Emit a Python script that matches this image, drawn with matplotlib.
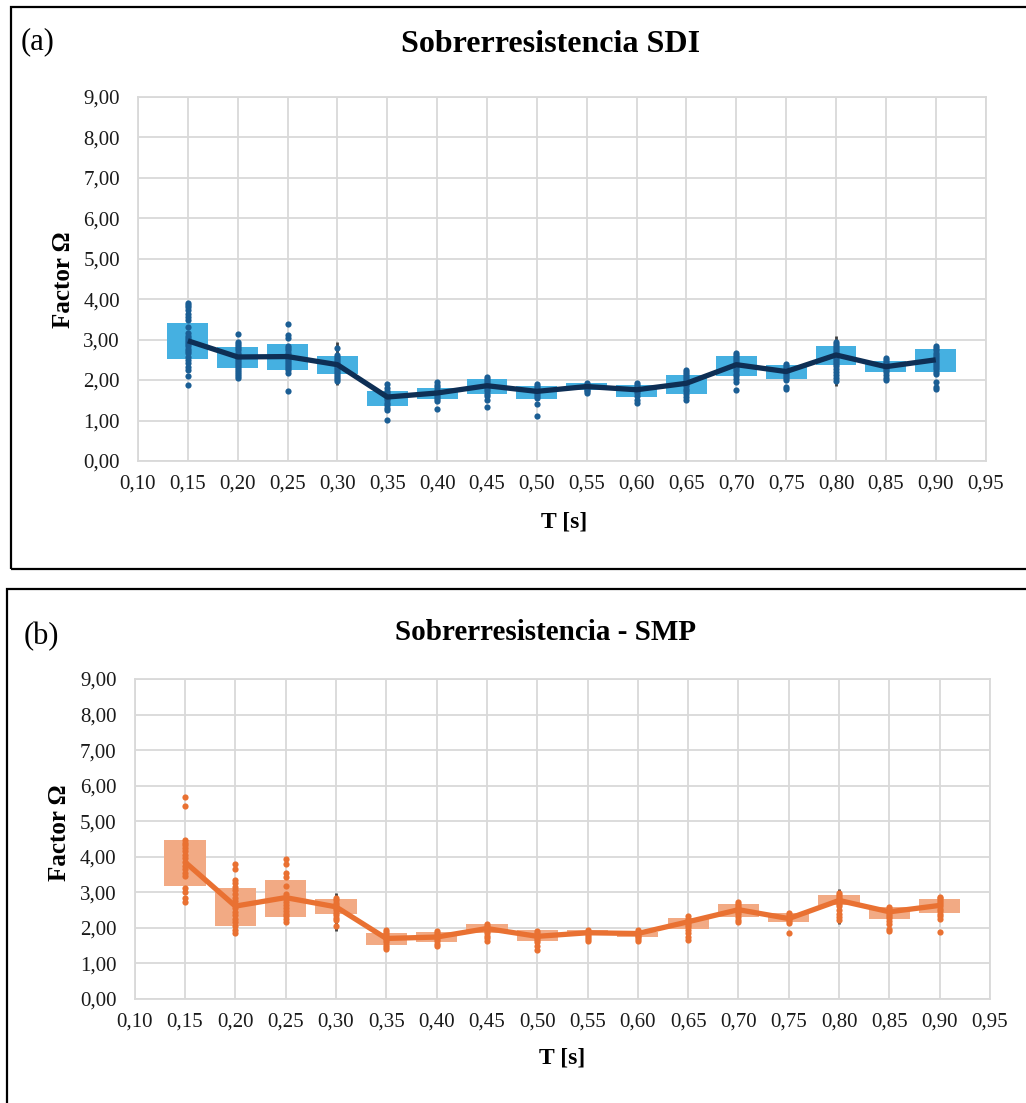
import matplotlib
matplotlib.use("Agg")
import matplotlib.pyplot as plt
from matplotlib.patches import Rectangle
from matplotlib.ticker import FuncFormatter, MultipleLocator

plt.rcParams['font.family'] = ['Liberation Serif', 'DejaVu Serif']

periods = [0.15, 0.20, 0.25, 0.30, 0.35, 0.40, 0.45, 0.50, 0.55, 0.60,
           0.65, 0.70, 0.75, 0.80, 0.85, 0.90]

# ---------- (a) SDI ----------
sdi_mean = [2.97, 2.57, 2.58, 2.38, 1.58, 1.68, 1.86, 1.72, 1.84, 1.76,
            1.92, 2.38, 2.21, 2.62, 2.33, 2.50]
sdi_box_top = [3.41, 2.81, 2.89, 2.60, 1.73, 1.80, 2.02, 1.86, 1.92, 1.88,
               2.13, 2.60, 2.37, 2.85, 2.48, 2.77]
sdi_box_bot = [2.52, 2.29, 2.24, 2.14, 1.37, 1.53, 1.65, 1.53, 1.76, 1.58,
               1.65, 2.10, 2.03, 2.36, 2.21, 2.19]
sdi_points = [
    [3.90, 3.85, 3.80, 3.72, 3.62, 3.55, 3.49, 3.32, 3.17, 3.10, 3.03, 2.98, 2.93,
     2.88, 2.83, 2.77, 2.72, 2.67, 2.58, 2.50, 2.42, 2.33, 2.24, 2.09, 1.88],
    [3.14, 2.93, 2.88, 2.83, 2.78, 2.73, 2.68, 2.63, 2.58, 2.54, 2.50, 2.45, 2.40,
     2.35, 2.30, 2.25, 2.20, 2.14, 2.09, 2.05],
    [3.39, 3.12, 3.04, 2.83, 2.78, 2.73, 2.68, 2.63, 2.58, 2.54, 2.50, 2.45, 2.40,
     2.35, 2.30, 2.25, 2.17, 1.74],
    [2.79, 2.62, 2.57, 2.52, 2.47, 2.42, 2.38, 2.33, 2.28, 2.23, 2.18, 2.13, 2.08,
     2.03, 1.98],
    [1.90, 1.80, 1.74, 1.68, 1.62, 1.56, 1.50, 1.44, 1.38, 1.32, 1.26, 1.01],
    [1.94, 1.88, 1.82, 1.76, 1.70, 1.64, 1.58, 1.52, 1.47, 1.29],
    [2.07, 2.02, 1.97, 1.92, 1.87, 1.82, 1.77, 1.72, 1.66, 1.60, 1.51, 1.34],
    [1.90, 1.85, 1.80, 1.75, 1.70, 1.65, 1.60, 1.55, 1.40, 1.11],
    [1.92, 1.88, 1.84, 1.80, 1.76, 1.72, 1.68],
    [1.92, 1.87, 1.82, 1.77, 1.72, 1.67, 1.61, 1.50, 1.43],
    [2.25, 2.20, 2.15, 2.10, 2.05, 2.00, 1.95, 1.90, 1.85, 1.79, 1.73, 1.66, 1.58, 1.50],
    [2.67, 2.62, 2.57, 2.52, 2.47, 2.42, 2.37, 2.32, 2.27, 2.22, 2.16, 2.10, 2.03,
     1.96, 1.76],
    [2.40, 2.35, 2.30, 2.25, 2.20, 2.15, 2.10, 2.05, 2.00, 1.82, 1.77],
    [2.95, 2.90, 2.85, 2.80, 2.75, 2.70, 2.65, 2.60, 2.55, 2.50, 2.45, 2.40, 2.34,
     2.27, 2.20, 2.13, 2.05, 1.97],
    [2.55, 2.50, 2.45, 2.40, 2.35, 2.30, 2.25, 2.20, 2.13, 2.05, 2.00],
    [2.83, 2.78, 2.73, 2.68, 2.63, 2.58, 2.53, 2.48, 2.43, 2.38, 2.33, 2.27, 2.20,
     2.14, 1.96, 1.84, 1.78],
]
sdi_range_T = [0.30, 0.80]
sdi_range_max = [2.95, 3.08]
sdi_range_min = [1.88, 1.86]

# ---------- (b) SMP ----------
smp_mean = [3.85, 2.61, 2.85, 2.59, 1.70, 1.74, 1.98, 1.76, 1.86, 1.84,
            2.17, 2.51, 2.26, 2.77, 2.45, 2.63]
smp_box_top = [4.46, 3.11, 3.34, 2.80, 1.84, 1.87, 2.10, 1.93, 1.93, 1.88,
               2.29, 2.66, 2.42, 2.91, 2.59, 2.82]
smp_box_bot = [3.18, 2.05, 2.31, 2.38, 1.53, 1.61, 1.84, 1.62, 1.81, 1.74,
               1.96, 2.31, 2.17, 2.63, 2.24, 2.42]
smp_points = [
    [5.69, 5.42, 4.46, 4.40, 4.33, 4.25, 4.15, 4.05, 3.95, 3.85, 3.75, 3.65, 3.55,
     3.45, 3.11, 3.00, 2.85, 2.73],
    [3.80, 3.66, 3.35, 3.25, 3.15, 3.05, 2.95, 2.85, 2.75, 2.65, 2.55, 2.45, 2.35,
     2.25, 2.15, 2.05, 1.95, 1.85],
    [3.94, 3.80, 3.54, 3.43, 3.17, 2.96, 2.88, 2.80, 2.72, 2.64, 2.56, 2.48, 2.40,
     2.32, 2.24, 2.16],
    [2.85, 2.78, 2.71, 2.64, 2.57, 2.50, 2.43, 2.36, 2.28, 2.21, 2.05],
    [1.95, 1.89, 1.83, 1.77, 1.71, 1.65, 1.59, 1.52, 1.45, 1.40],
    [1.92, 1.86, 1.80, 1.74, 1.68, 1.62, 1.55, 1.48],
    [2.12, 2.06, 2.00, 1.95, 1.90, 1.84, 1.78, 1.70, 1.63],
    [1.90, 1.84, 1.78, 1.72, 1.66, 1.60, 1.50, 1.38],
    [1.94, 1.89, 1.84, 1.79, 1.74, 1.68, 1.62],
    [1.93, 1.88, 1.83, 1.78, 1.73, 1.68, 1.62],
    [2.32, 2.26, 2.20, 2.14, 2.08, 2.02, 1.95, 1.85, 1.74, 1.66],
    [2.74, 2.68, 2.62, 2.56, 2.50, 2.44, 2.38, 2.30, 2.22, 2.15],
    [2.42, 2.36, 2.30, 2.24, 2.18, 2.13, 1.86],
    [2.98, 2.92, 2.86, 2.80, 2.74, 2.68, 2.60, 2.50, 2.40, 2.30, 2.22],
    [2.58, 2.52, 2.46, 2.40, 2.34, 2.28, 2.20, 2.10, 1.98, 1.90],
    [2.88, 2.83, 2.78, 2.72, 2.66, 2.60, 2.54, 2.47, 2.40, 2.32, 2.25, 1.88],
]
smp_range_T = [0.30, 0.80]
smp_range_max = [2.98, 3.10]
smp_range_min = [1.90, 2.12]

W, H = 1026, 1103
fig = plt.figure(figsize=(W / 100, H / 100), dpi=100)


def fx(px):
    return px / W


def fy(py):
    return 1 - py / H


# frames
fig.add_artist(Rectangle((fx(11), fy(569)), fx(1040 - 11), (569 - 7) / H,
                         transform=fig.transFigure, fill=False, ec='black', lw=1.6))
fig.add_artist(Rectangle((fx(7), fy(1110)), fx(1040 - 7), (1110 - 589) / H,
                         transform=fig.transFigure, fill=False, ec='black', lw=1.6))

fmt = FuncFormatter(lambda v, p: f"{v:.2f}".replace('.', ','))


def draw(ax, means, btop, bbot, pts, rT, rmax, rmin, box_c, dot_c, line_c):
    ax.set_xlim(0.10, 0.95)
    ax.set_ylim(0, 9)
    ax.xaxis.set_major_locator(MultipleLocator(0.05))
    ax.yaxis.set_major_locator(MultipleLocator(1.0))
    ax.xaxis.set_major_formatter(fmt)
    ax.yaxis.set_major_formatter(fmt)
    ax.grid(True, color='#D9D9D9', lw=1.3, zorder=0)
    ax.set_axisbelow(True)
    for s in ax.spines.values():
        s.set_color('#D9D9D9')
        s.set_linewidth(1.3)
    ax.tick_params(length=0, labelsize=15, colors='#1a1a1a')
    ax.tick_params(axis='y', pad=13)
    ax.tick_params(axis='x', pad=10)
    heights = [t - b for t, b in zip(btop, bbot)]
    ax.bar(periods, heights, bottom=bbot, width=0.041, color=box_c, zorder=2)
    ax.vlines(rT, rmin, rmax, color='#404040', lw=2, zorder=3)
    for T, vals in zip(periods, pts):
        ax.scatter([T] * len(vals), vals, s=20, color=dot_c, zorder=4, lw=0)
    ax.plot(periods, means, color=line_c, lw=3.8, zorder=5, solid_capstyle='butt')


ax1 = fig.add_axes([fx(138), fy(461), (985.6 - 138) / W, (461 - 96.7) / H])
draw(ax1, sdi_mean, sdi_box_top, sdi_box_bot, sdi_points,
     sdi_range_T, sdi_range_max, sdi_range_min, '#45B0E1', '#1B5E94', '#0E2F55')

ax2 = fig.add_axes([fx(134.7), fy(998.9), (990 - 134.7) / W, (998.9 - 679) / H])
draw(ax2, smp_mean, smp_box_top, smp_box_bot, smp_points,
     smp_range_T, smp_range_max, smp_range_min, '#F2AA84', '#E97132', '#E97132')

# texts
fig.text(fx(551), fy(45), 'Sobrerresistencia SDI', ha='center', va='center',
         fontsize=23, fontweight='bold')
fig.text(fx(546), fy(632), 'Sobrerresistencia - SMP', ha='center', va='center',
         fontsize=21, fontweight='bold')
fig.text(fx(21), fy(42), '(a)', ha='left', va='center', fontsize=22)
fig.text(fx(24), fy(637), '(b)', ha='left', va='center', fontsize=22)
fig.text(fx(63), fy(280), 'Factor Ω', rotation=90, ha='center', va='center',
         fontsize=18, fontweight='bold')
fig.text(fx(60), fy(833), 'Factor Ω', rotation=90, ha='center', va='center',
         fontsize=18, fontweight='bold')
fig.text(fx(564), fy(522), 'T [s]', ha='center', va='center', fontsize=17, fontweight='bold')
fig.text(fx(562), fy(1058), 'T [s]', ha='center', va='center', fontsize=17, fontweight='bold')

fig.savefig('out.png', dpi=100)
